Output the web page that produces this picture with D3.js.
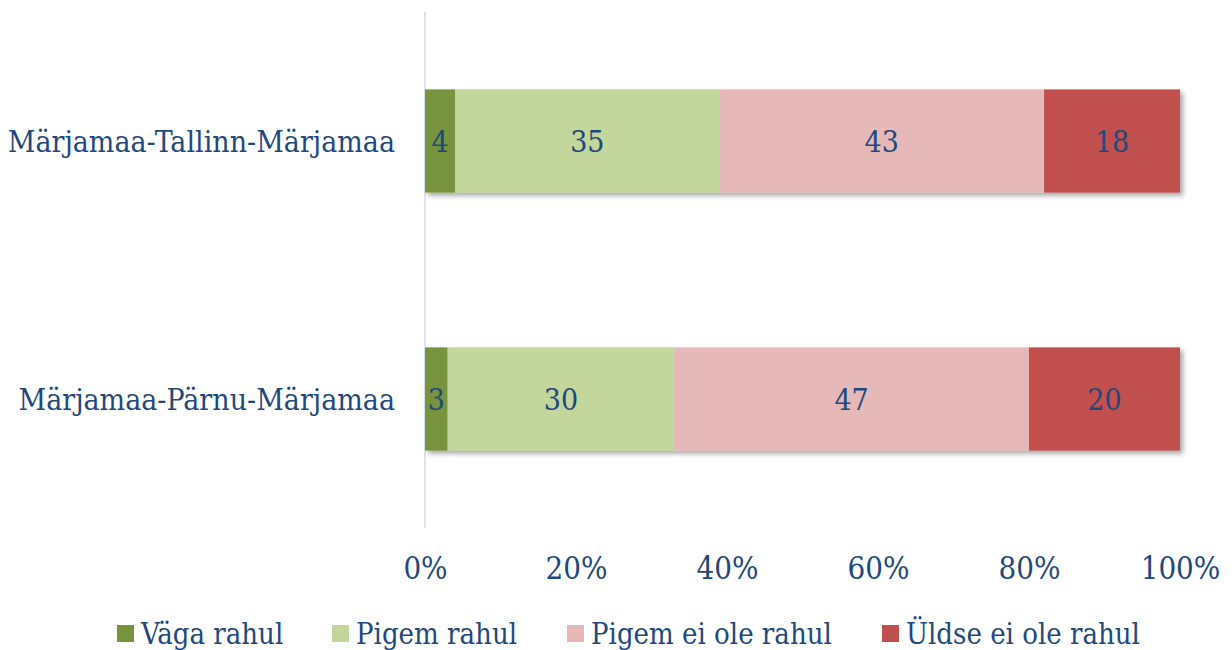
<!DOCTYPE html>
<html>
<head>
<meta charset="utf-8">
<script src="https://cdn.jsdelivr.net/npm/d3@7"></script>
<style>
  body { margin: 0; background: #fff; }
  text { font-family: 'DejaVu Serif Condensed', 'DejaVu Serif', serif; font-stretch: condensed; fill: #1f497d; }
</style>
</head>
<body>
<script>
var width = 1232
var height = 650

var categories = ['Märjamaa-Tallinn-Märjamaa', 'Märjamaa-Pärnu-Märjamaa']
var seriesNames = ['Väga rahul', 'Pigem rahul', 'Pigem ei ole rahul', 'Üldse ei ole rahul']
var veryPleased = [4, 3]
var ratherPleased = [35, 30]
var ratherNot = [43, 47]
var notAtAll = [18, 20]
var tickValues = [0, 0.2, 0.4, 0.6, 0.8, 1]
var colors = ['#77933c', '#c3d69b', '#e6b9b8', '#c0504d']

var svg = d3.select('body').append('svg')
  .attr('width', width)
  .attr('height', height)

var defs = svg.append('defs')
var filter = defs.append('filter').attr('id', 'shadow')
  .attr('x', '-5%').attr('y', '-10%').attr('width', '115%').attr('height', '130%')
filter.append('feDropShadow')
  .attr('dx', 3).attr('dy', 3).attr('stdDeviation', 2.5)
  .attr('flood-color', '#000').attr('flood-opacity', 0.35)

var x = d3.scaleLinear().domain([0, 1]).range([425, 1180])
var y = d3.scaleBand().domain(categories).range([12, 528]).paddingInner(0.6).paddingOuter(0.3)

// axis line
svg.append('line')
  .attr('x1', x(0)).attr('x2', x(0))
  .attr('y1', 12).attr('y2', 528)
  .style('stroke', '#dbe5f1')
  .style('stroke-width', 2)

var table = categories.map(function(c, i) {
  return { cat: c, 0: veryPleased[i], 1: ratherPleased[i], 2: ratherNot[i], 3: notAtAll[i] }
})
var stack = d3.stack().keys([0, 1, 2, 3]).offset(d3.stackOffsetExpand)
var series = stack(table)

// bars with shadow
var barGroup = svg.append('g')
barGroup.selectAll('g')
  .data(categories)
  .enter()
  .append('g')
  .attr('filter', 'url(#shadow)')
  .each(function(c, i) {
    d3.select(this).selectAll('rect')
      .data(series.map(function(s) { return { key: s.key, v: s[i] } }))
      .enter()
      .append('rect')
      .attr('x', function(d) { return x(d.v[0]) })
      .attr('y', y(c))
      .attr('width', function(d) { return x(d.v[1]) - x(d.v[0]) })
      .attr('height', y.bandwidth())
      .style('fill', function(d) { return colors[d.key] })
  })

// value labels
series.forEach(function(s) {
  svg.selectAll(null)
    .data(s)
    .enter()
    .append('text')
    .attr('x', function(d) { return (x(d[0]) + x(d[1])) / 2 })
    .attr('y', function(d) { return y(d.data.cat) + y.bandwidth() / 2 })
    .attr('text-anchor', 'middle')
    .attr('dy', '0.36em')
    .style('font-size', '30px')
    .text(function(d) { return d.data[s.key] })
})

// category labels
svg.selectAll('.cat')
  .data(categories)
  .enter()
  .append('text')
  .attr('class', 'cat')
  .attr('x', 395)
  .attr('y', function(d) { return y(d) + y.bandwidth() / 2 })
  .attr('dy', '0.36em')
  .attr('text-anchor', 'end')
  .style('font-size', '30px')
  .text(function(d) { return d })

// x axis tick labels
var xAxis = d3.axisBottom(x).tickValues(tickValues).tickFormat(d3.format('.0%')).tickSize(0)
var axisG = svg.append('g').attr('transform', 'translate(0,554)').call(xAxis)
axisG.select('.domain').remove()
axisG.selectAll('text')
  .style('font-family', "'DejaVu Serif Condensed', 'DejaVu Serif', serif")
  .style('font-size', '31px')
  .style('fill', '#1f497d')

// legend
var legendX = [117, 332, 567, 882]
var legend = svg.selectAll('.legend')
  .data(seriesNames)
  .enter()
  .append('g')
  .attr('class', 'legend')
  .attr('transform', function(d, i) { return 'translate(' + legendX[i] + ',625)' })
legend.append('rect')
  .attr('width', 17).attr('height', 17)
  .style('fill', function(d, i) { return colors[i] })
legend.append('text')
  .attr('x', 24)
  .attr('y', 9)
  .attr('dy', '0.36em')
  .style('font-size', '29px')
  .text(function(d) { return d })
</script>
</body>
</html>
